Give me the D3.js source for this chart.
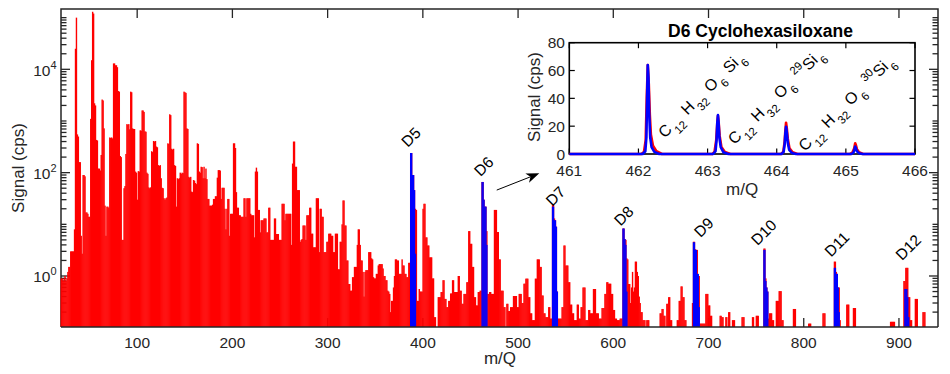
<!DOCTYPE html>
<html><head><meta charset="utf-8">
<script src="https://cdn.jsdelivr.net/npm/d3@7"></script>
<style>
body{margin:0;background:#fff;}
svg{display:block;font-family:"Liberation Sans",Arial,Helvetica,sans-serif;}
</style></head><body>
<svg id="chart" width="950" height="374"></svg>
<script>
// ---------------- DATA ----------------
const xTickValues = [100,200,300,400,500,600,700,800,900];
const yLabelExponents = [0,2,4];
// red spectrum, one value per nominal m/Q, starting at m/Q 20 (cps)
const redStartMass = 20;
const redLow = [
 0.9,0.9,0.8,0.9,1.0,0.8,0.9,1.2,1.5,1.5,            // 20-29
 3,3,3,3,8,25000,100000,550,500,160,                  // 30-39
 160,6,2.7,90,90,85,17,17,16,14,                      // 40-49
 14,1100,15000,130000,120000,2200,2000,430,420,120,   // 50-59
 120,110,220,2600,2500,720,23,6,22,22,                // 60-69
 21,480,470,480,460,13000,13000,12000,12000,11000,    // 70-79
 3800,3700,210,200,5,5,50,55,230,870,                 // 80-89
 850,870,690,3700,3600,720,700,700,105,100,           // 90-99
 30,107,105,660,650,1600,1600,1500,630,620,           // 100-109
 100,95,52,50,52,260,250,410,400,410,                 // 110-119
 320,310,140,135,140,78,51,50,32,30,                  // 120-129
 32,33,370,360,1350,1300,290,280,290,140,             // 130-139
 135,22,78,75,78,100,95,100,98,3700,                  // 140-149
 3600,3500,720,700,83,80,83,43,42,72,                 // 150-159
 70,63,60,370,360,105,100,130,128,78,                 // 160-169
 130,78,120,75,31,31,23,23,23,24,                     // 170-179
 31,31,35,35,80,112,112,110,31,51,                    // 180-189
 51,51,20,8,20,31,31,6,16,16,                         // 190-199
 16,370,370,300,42,21,21,15,15,14,                    // 200-209
 14,14,32,32,14,32,32,32,32,16,                       // 210-219
 15,15,15,5.6,105,125,105,19,19,7,                    // 220-229
 12,12,12,13,13,13,7,7,21,21,                         // 230-239
 5,5,5,5,13,13,6.5,6.5,6.5,5,                         // 240-249
 5,5,25,25,25,12,16,16,16,16,                         // 250-259
 16,16,4,150,400,400,130,130,46,46,                   // 260-269
 46,4.6,5,5.2,9.5,9.5,9.5,5,15,15,                    // 270-279
 15,21,21,6.6,6.6,3.6,3.6,3.6,32,32,                  // 280-289
 32,2.9,20,20,14,14,2.9,2.9,2.9,4.6,                  // 290-299
 4.6,6.6,6.6,6.6,6,6,2.9,2.9,6.6,6.6,                 // 300-309
 6.6,1.35,1.35,4.6,4.6,10,29,29,9.5,9.5,              // 310-319
 2,2,0.7,0.7,0.52,0.52,0.95,0.95,1.5,1.5,             // 320-329
 1.5,4,8,8,4,2,2,1.2,0.4,1.2,                         // 330-339
 1.3,1.3,1.3,2.9,2.9,2.9,2.2,2.1,0.95,0.9,            // 340-349
 0.9,1.1,1.1,1.6,1.7,1.7,1.7,1.7,1.4,1.0,             // 350-359
 1.0,0.83,0.83,0.52,0.5,0.45,0.2,0.33,0.33,0.6,       // 360-369
 1.0,2.1,2.1,2.0,2.0,1.1,1.1,1.1,2.1,1.6,             // 370-379
 1.6,1.1,1.1,0.95,0.95,1.8,1.8,240,240,90,            // 380-389
 90,46,20,19,0.33,0.33,0.56,0.5,0.5,0.5               // 390-399
];
// red spectrum above m/Q 400: [m/Q, cps]
const redHigh = [
 [400,20],[401,25],[402,25],[403,5.6],[404,5.6],[405,3.9],[406,3.9],[407,2.3],[408,2.3],[409,2.3],
 [410,0.9],[411,0.9],[412,0.16],[413,0.16],[416,0.39],[417,0.39],[418,0.39],[419,0.49],[420,0.49],
 [421,0.83],[422,0.83],[423,0.36],[424,0.36],[425,0.25],[426,0.25],[427,0.33],[428,0.33],[429,0.46],
 [430,0.46],[431,0.83],[432,0.83],[433,0.49],[434,0.49],[435,0.49],[436,0.49],[437,1.0],[438,1.0],
 [439,0.52],[440,0.52],[441,0.29],[442,0.29],[443,0.45],[444,0.45],[445,0.45],[446,0.76],[447,0.76],
 [448,7.4],[449,7.4],[450,4.2],[451,4.2],[452,1.5],[453,1.5],[454,0.39],[455,0.39],[456,0.27],
 [457,0.27],[458,0.49],[459,0.49],[460,0.52],[461,0.52],
 [462,66],[463,66],[464,30],[465,22],[466,22],[467,7.4],
 [468,0.45],[469,0.45],[470,0.49],[471,0.49],[472,0.45],[473,0.45],[474,0.45],[475,19],[476,19],
 [477,19],[478,7.1],[479,7.1],[480,2.1],[481,2.1],[482,0.52],[483,0.52],[484,0.52],[485,0.25],
 [486,0.25],[488,0.29],[489,0.29],[490,0.21],[491,0.21],[492,0.25],[493,0.25],[494,0.25],[495,0.41],
 [496,0.41],[497,0.41],[498,0.41],[499,0.25],[500,0.25],[501,0.45],[502,0.45],[503,0.45],[504,0.3],
 [505,0.3],[506,0.71],[507,0.71],[508,0.89],[509,0.89],[510,0.89],[511,0.39],[512,0.39],[513,0.19],
 [514,0.19],[515,0.14],[516,0.14],[517,0.14],[518,0.89],[519,0.89],[520,2.1],[521,2.1],[522,2.1],
 [523,1.5],[524,1.5],[525,0.42],[526,0.42],[527,0.19],[528,0.19],[529,0.16],[530,0.16],[531,0.16],
 [532,0.25],[533,0.25],[534,0.15],[535,0.15],
 [536,24],[537,24],[538,13],[539,12],[540,9],[541,0.5],
 [542,0.15],[543,0.15],[544,0.15],[545,0.15],[546,0.25],[547,0.25],[548,3.9],[549,3.9],[550,1.6],
 [551,1.6],[552,1.6],[553,0.76],[554,0.76],[555,0.28],[556,0.28],[557,0.19],[558,0.19],[559,0.14],
 [560,0.14],[561,0.14],[562,0.28],[563,0.28],[564,0.15],[565,0.15],[566,0.25],[567,0.25],[568,0.6],
 [569,0.6],[570,0.6],[571,0.14],[572,0.14],[573,0.14],[574,0.22],[575,0.22],[576,0.19],[577,0.19],
 [578,0.19],[579,0.56],[580,0.56],[581,0.56],[582,0.19],[583,0.19],[584,0.19],[585,0.15],[586,0.15],
 [587,0.15],[588,0.24],[589,0.24],[590,0.24],[591,0.45],[592,0.45],[593,0.76],[594,0.76],[595,0.71],
 [596,0.71],[597,0.71],[598,0.45],[599,0.45],[600,0.22],[601,0.22],[602,0.15],[603,0.15],[604,0.14],
 [605,0.14],[606,0.14],[607,0.15],[608,0.15],[609,0.15],
 [610,8.3],[611,8.3],[612,5.2],[613,5],[614,2.2],[615,2.1],[616,0.7],[617,0.7],[618,0.3],[619,0.6],
 [620,1.2],[621,0.5],[622,0.6],[623,1.9],[624,1.9],[625,1.2],[626,1.0],[627,0.4],[628,0.3],[629,0.2],
 [630,0.2],[631,0.14],[632,0.14],[633,0.14],[635,0.14],[636,0.14],[637,0.14],
 [649,0.19],[650,0.19],[651,0.23],[652,0.23],[653,0.17],[654,0.17],[656,0.29],[657,0.29],[658,0.39],
 [659,0.39],[660,0.14],[661,0.14],[667,0.14],[668,0.14],[669,0.33],[670,0.33],[671,0.63],[672,0.63],
 [673,0.39],[674,0.39],[675,0.14],[676,0.14],
 [683,0.3],[684,4.6],[685,4.6],[686,3.3],[687,3.2],[688,3.2],[689,1.0],[690,1.0],
 [691,0.12],[692,0.12],[693,0.12],[694,0.12],[695,0.12],[696,0.12],[697,0.45],[698,0.45],[699,0.45],
 [700,0.27],[701,0.27],[702,0.17],[703,0.17],[712,0.17],[713,0.17],[714,0.16],[715,0.16],[718,0.16],
 [719,0.16],[721,0.2],[722,0.2],[725,0.14],[726,0.14],[727,0.14],[735,0.16],[736,0.16],[737,0.16],
 [746,0.16],[747,0.16],[750,0.17],[751,0.17],[752,0.17],
 [758,3.4],[759,3.4],[760,0.9],[761,0.6],[762,0.5],[763,0.15],
 [764,0.19],[765,0.19],[766,0.19],[767,0.14],[768,0.14],[771,0.33],[772,0.33],[773,0.33],[774,0.51],
 [775,0.51],[776,0.51],[777,0.14],[778,0.14],[789,0.23],[790,0.23],[791,0.23],[805,0.12],[806,0.12],
 [807,0.12],[820,0.19],[821,0.19],[822,0.19],
 [832,1.9],[833,1.9],[834,1.2],[835,1.1],[836,0.6],[837,0.6],[838,0.14],
 [845,0.28],[846,0.28],[847,0.28],[852,0.24],[853,0.24],[854,0.24],[891,0.13],[892,0.13],[893,0.13],
 [894,0.13],[895,0.13],
 [905,0.8],[906,0.8],[907,1.44],[908,1.44],[909,1.44],[910,0.39],[911,0.39],[912,0.14],[913,0.14],
 [917,0.36],[918,0.36],[919,0.36],[925,0.2],[926,0.2],[927,0.2]
];
// blue: cyclic siloxane (Dn) ion signals [m/Q, cps]
const blueD5  = [[387,240],[388,240],[389,90],[390,90],[391,46],[392,2.7]];
const blueD6  = [[462,66],[463,66],[464,30],[465,22],[466,22],[467,4]];
const blueD7  = [[536,22],[537,22],[538,12],[539,12],[540,9],[541,0.5]];
const blueD8  = [[610,8.3],[611,8.3],[612,5.2],[613,4],[614,0.5]];
const blueD9  = [[684,4.5],[685,4.5],[686,3.2],[687,3.2],[688,1.1],[689,1.1],[690,0.25]];
const blueD10 = [[758,3.2],[759,3.2],[760,0.8],[761,0.6],[762,0.5]];
const blueD11 = [[832,1.44],[833,1.44],[834,1.1],[835,1.1],[836,0.6],[837,0.2]];
const blueD12 = [[906,0.56],[907,0.56],[908,0.56],[909,0.39],[910,0.16]];
// peak labels (start of rotated text)
const dLabels     = ["D5","D6","D7","D8","D9","D10","D11","D12"];
const dLabelMass  = [384.2,460.6,535.9,607.7,691.6,751.5,828.6,903.3];
const dLabelValue = [300,81.7,21.6,9.0,5.4,3.76,2.26,1.93];
const arrowFrom = [477.6,46];
const arrowTo   = [522.3,97];

// inset
const insetTitle = "D6 Cyclohexasiloxane";
const insetXTicks = [461,462,463,464,465,466];
const insetYTicks = [0,20,40,60,80];
const insetRed = [
 [461.00,0],[462.04,0],[462.08,1.5],[462.105,10],[462.12,40],[462.135,64],[462.15,50],[462.165,28],[462.18,14],[462.21,6],[462.26,2],[462.34,0],
 [463.07,0],[463.10,1.5],[463.125,10],[463.14,22],[463.15,27.5],[463.16,23],[463.175,13],[463.20,5],[463.25,1.5],[463.33,0],
 [464.06,0],[464.095,1.5],[464.115,9],[464.125,17],[464.135,22.5],[464.145,19],[464.16,11],[464.185,4],[464.23,1.2],[464.30,0],
 [465.06,0],[465.095,1],[465.12,4],[465.135,7.7],[465.145,6.5],[465.16,3.5],[465.19,1.2],[465.25,0],
 [466.00,0]
];
const insetBlue = [
 [461.00,0],[462.06,0],[462.10,2],[462.115,12],[462.125,40],[462.135,64],[462.145,55],[462.155,30],[462.17,12],[462.19,5],[462.23,1.5],[462.30,0],
 [463.08,0],[463.115,2],[463.13,10],[463.14,22],[463.15,28],[463.16,22],[463.17,12],[463.19,5],[463.23,1.2],[463.30,0],
 [464.07,0],[464.10,1.5],[464.115,7],[464.125,15],[464.135,19.6],[464.145,16],[464.16,8],[464.18,3],[464.22,0.8],[464.28,0],
 [465.08,0],[465.11,1],[465.125,3.5],[465.135,5.3],[465.145,4.2],[465.16,2],[465.19,0.6],[465.24,0],
 [466.00,0]
];
const formulaIso  = ["", "29", "30"];
const formulaMass = [462.38, 463.39, 464.41];
const formulaCps  = [11.0, 6.25, 1.45];

// ---------------- DRAWING ----------------
const svg = d3.select('#chart');
const axisColor = '#262626';
const M = {left:61, right:938, top:9, bottom:327};
const x = d3.scaleLinear().domain([20,941]).range([M.left, M.right]);
const y = d3.scaleLog().domain([0.103,1.47e5]).range([M.bottom, M.top]);
const f2 = v => Math.round(v * 100) / 100;

const axG = svg.append('g').attr('stroke', axisColor).attr('stroke-width', 1.3);
y.ticks().forEach(v => {
  const e = Math.log10(v);
  const major = Math.abs(e - Math.round(e)) < 1e-9 && yLabelExponents.includes(Math.round(e));
  const len = major ? 9 : 5.5;
  const yy = y(v);
  axG.append('line').attr('x1', M.left).attr('x2', M.left + len).attr('y1', yy).attr('y2', yy);
  axG.append('line').attr('x1', M.right).attr('x2', M.right - len).attr('y1', yy).attr('y2', yy);
});
xTickValues.forEach(v => {
  const xx = x(v);
  axG.append('line').attr('x1', xx).attr('x2', xx).attr('y1', M.top).attr('y2', M.top + 9);
  axG.append('line').attr('x1', xx).attr('x2', xx).attr('y1', M.bottom).attr('y2', M.bottom - 9);
});
axG.append('path').attr('fill','none').attr('stroke-width',1.5)
  .attr('d', `M${M.left},${M.bottom}V${M.top}H${M.right}V${M.bottom}`);

// bars
const redData = redLow.map((v,i) => [redStartMass + i, v]).concat(redHigh)
  .filter(d => d[1] > y.domain()[0]);
const barX = d => x(d[0] - 0.5);
const barW = d => x(d[0] + 0.5) - x(d[0] - 0.5) + 0.45;
svg.append('g').selectAll('rect').data(redData).join('rect')
  .attr('x', barX).attr('width', barW)
  .attr('y', d => y(d[1])).attr('height', d => M.bottom - y(d[1]))
  .attr('fill', '#ff0000');
const blueData = [].concat(blueD5, blueD6, blueD7, blueD8, blueD9, blueD10, blueD11, blueD12)
  .filter(d => d[1] > y.domain()[0]);
svg.append('g').selectAll('rect').data(blueData).join('rect')
  .attr('x', barX).attr('width', barW)
  .attr('y', d => y(d[1])).attr('height', d => M.bottom - y(d[1]))
  .attr('fill', '#0000ff');
svg.append('line').attr('x1', M.left).attr('x2', M.right).attr('y1', M.bottom).attr('y2', M.bottom)
  .attr('stroke', axisColor).attr('stroke-width', 1.5);

// tick labels
const tl = svg.append('g').attr('fill', axisColor).attr('font-size', 15.5);
xTickValues.forEach(v => {
  tl.append('text').attr('x', x(v)).attr('y', 348.3).attr('text-anchor','middle').text(v);
});
yLabelExponents.forEach(e => {
  const t = tl.append('text').attr('x', 56.5).attr('y', y(Math.pow(10,e)) + 6.5).attr('text-anchor','end');
  t.append('tspan').text('10');
  t.append('tspan').attr('dy', -7).attr('font-size', 11).text(String(e));
});
svg.append('text').attr('x', 500).attr('y', 364).attr('text-anchor','middle')
  .attr('font-size', 17).attr('fill', axisColor).text('m/Q');
svg.append('text').attr('transform', 'translate(24,168) rotate(-90)').attr('text-anchor','middle')
  .attr('font-size', 17).attr('fill', axisColor).text('Signal (cps)');

// D labels (rotated 45 degrees, anchored at start of baseline)
dLabels.forEach((lab, i) => {
  const tx = f2(x(dLabelMass[i])), ty = f2(y(dLabelValue[i]));
  svg.append('text').attr('transform', `translate(${tx},${ty}) rotate(315)`)
    .attr('font-size', 15.5).attr('fill', '#000').text(lab);
});
// arrow
{
  const x1 = x(arrowFrom[0]), y1 = y(arrowFrom[1]), x2 = x(arrowTo[0]), y2 = y(arrowTo[1]);
  const ang = Math.atan2(y2 - y1, x2 - x1);
  const hl = 13, hw = 5, notch = 3.5;
  const ux = Math.cos(ang), uy = Math.sin(ang), px = -uy, py = ux;
  const bx = x2 - hl*ux, by = y2 - hl*uy;
  svg.append('line').attr('x1', x1).attr('y1', y1).attr('x2', bx + notch*ux).attr('y2', by + notch*uy)
    .attr('stroke', '#000').attr('stroke-width', 1);
  svg.append('path').attr('fill', '#000')
    .attr('d', `M${x2},${y2}L${bx + hw*px},${by + hw*py}L${bx + notch*ux},${by + notch*uy}L${bx - hw*px},${by - hw*py}Z`);
}

// ---------------- INSET ----------------
const I = {left:569.3, right:915, top:42.7, bottom:154};
const xi = d3.scaleLinear().domain([461,466]).range([I.left, I.right]);
const yi = d3.scaleLinear().domain([0,80]).range([I.bottom, I.top]);
const ig = svg.append('g');
ig.append('rect').attr('x', I.left).attr('y', I.top).attr('width', I.right - I.left).attr('height', I.bottom - I.top).attr('fill', '#fff');
const itg = ig.append('g').attr('stroke', '#000').attr('stroke-width', 1.2);
insetYTicks.forEach(v => {
  itg.append('line').attr('x1', I.left).attr('x2', I.left + 5.5).attr('y1', yi(v)).attr('y2', yi(v));
  itg.append('line').attr('x1', I.right).attr('x2', I.right - 5.5).attr('y1', yi(v)).attr('y2', yi(v));
});
insetXTicks.forEach(v => {
  itg.append('line').attr('x1', xi(v)).attr('x2', xi(v)).attr('y1', I.top).attr('y2', I.top + 5.5);
  itg.append('line').attr('x1', xi(v)).attr('x2', xi(v)).attr('y1', I.bottom).attr('y2', I.bottom - 5.5);
});
ig.append('rect').attr('x', I.left).attr('y', I.top).attr('width', I.right - I.left).attr('height', I.bottom - I.top)
  .attr('fill', 'none').attr('stroke', '#000').attr('stroke-width', 1.6);
svg.append('clipPath').attr('id', 'insetClip').append('rect')
  .attr('x', I.left).attr('y', I.top - 2).attr('width', I.right - I.left).attr('height', I.bottom - I.top + 4);
const line = d3.line().x(d => xi(d[0])).y(d => yi(d[1]));
ig.append('path').datum(insetRed).attr('d', line).attr('fill','none').attr('stroke','#ff0000')
  .attr('stroke-width', 2.6).attr('stroke-linejoin','round').attr('clip-path','url(#insetClip)');
ig.append('path').datum(insetBlue).attr('d', line).attr('fill','none').attr('stroke','#0000ff')
  .attr('stroke-width', 2.6).attr('stroke-linejoin','round').attr('clip-path','url(#insetClip)');
const itl = ig.append('g').attr('fill', axisColor).attr('font-size', 15.5);
insetYTicks.forEach(v => {
  itl.append('text').attr('x', 565).attr('y', yi(v) + 5.6).attr('text-anchor','end').text(v);
});
insetXTicks.forEach(v => {
  itl.append('text').attr('x', xi(v)).attr('y', 176).attr('text-anchor','middle').text(v);
});
ig.append('text').attr('x', (I.left + I.right)/2).attr('y', 195).attr('text-anchor','middle')
  .attr('font-size', 17).attr('fill', axisColor).text('m/Q');
ig.append('text').attr('transform', 'translate(539.5,97) rotate(-90)').attr('text-anchor','middle')
  .attr('font-size', 17).attr('fill', axisColor).text('Signal (cps)');
ig.append('text').attr('x', 760.5).attr('y', 37).attr('text-anchor','middle')
  .attr('font-size', 17.5).attr('font-weight', 'bold').attr('fill', '#000').text(insetTitle);

// formula labels (rotated 45 degrees, anchored at start of baseline)
formulaMass.forEach((m, i) => {
  const tx = f2(xi(m)), ty = f2(yi(formulaCps[i]));
  const t = svg.append('text').attr('transform', `translate(${tx},${ty}) rotate(315)`)
    .attr('font-size', 16).attr('fill', '#000');
  const el = (s) => t.append('tspan').attr('dx', 0).text(s);
  const sub = (s, gapAfter) => {
    t.append('tspan').attr('dx', 1.5).attr('dy', 7).attr('font-size', 11.5).text(s);
    return gapAfter;
  };
  t.append('tspan').text('C');
  sub('12');
  t.append('tspan').attr('dx', 6.5).attr('dy', -7).text('H');
  sub('32');
  t.append('tspan').attr('dx', 6.5).attr('dy', -7).text('O');
  sub('6');
  if (formulaIso[i]) {
    t.append('tspan').attr('dx', 6.5).attr('dy', -14).attr('font-size', 11.5).text(formulaIso[i]);
    t.append('tspan').attr('dx', 0.5).attr('dy', 7).text('Si');
  } else {
    t.append('tspan').attr('dx', 6.5).attr('dy', -7).text('Si');
  }
  sub('6');
});
</script>
</body></html>
